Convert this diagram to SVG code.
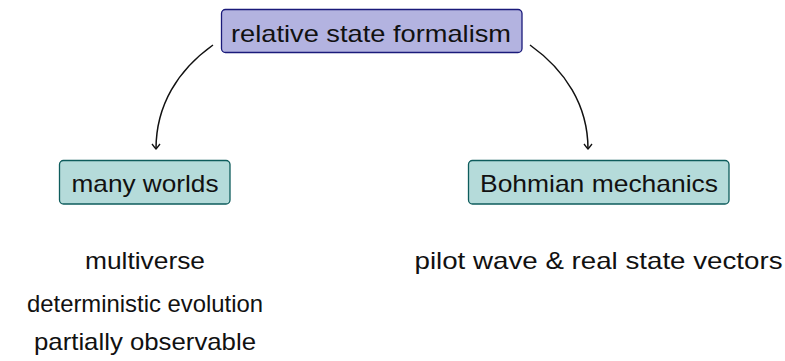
<svg xmlns="http://www.w3.org/2000/svg" width="785" height="361" viewBox="0 0 785 361">
<style>
text{font-family:"Liberation Sans","DejaVu Sans",sans-serif;font-size:24px;fill:#111;text-anchor:middle}
.top{fill:#b3b3e0;stroke:#1a1a7a;stroke-width:1.3}
.bot{fill:#b5dbda;stroke:#0e5c5c;stroke-width:1.3}
.conn{fill:none;stroke:#111;stroke-width:1.5}
</style>
<defs>
<marker id="arr" viewBox="-6 -5 8 10" markerWidth="8" markerHeight="10" refX="0" refY="0" orient="auto" markerUnits="userSpaceOnUse">
<path d="M-5,-4 Q-1,-1 0,0 Q-1,1 -5,4" fill="none" stroke="#111" stroke-width="1.3"/>
</marker>
</defs>
<rect width="785" height="361" fill="#fff"/>
<g id="connectors">
<path class="conn" d="M213,45 C178,70 156,105 156,149" marker-end="url(#arr)"/>
<path class="conn" d="M530,45 C565,70 588,105 588,149" marker-end="url(#arr)"/>
</g>
<g id="relative">
<rect class="top" x="221.5" y="9.5" width="300.5" height="43" rx="4"/>
<text x="371" y="41.5" textLength="280" lengthAdjust="spacingAndGlyphs">relative state formalism</text>
</g>
<g id="many">
<rect class="bot" x="59.5" y="160.5" width="170.5" height="43.5" rx="4"/>
<text x="145" y="191.5" textLength="147" lengthAdjust="spacingAndGlyphs">many worlds</text>
</g>
<g id="bohm">
<rect class="bot" x="468.5" y="160.5" width="260.5" height="43.5" rx="4"/>
<text x="599" y="191.5" textLength="238" lengthAdjust="spacingAndGlyphs">Bohmian mechanics</text>
</g>
<g id="labels">
<text x="145" y="269" textLength="120" lengthAdjust="spacingAndGlyphs">multiverse</text>
<text x="145" y="312" textLength="236" lengthAdjust="spacingAndGlyphs">deterministic evolution</text>
<text x="145" y="350" textLength="222" lengthAdjust="spacingAndGlyphs">partially observable</text>
<text x="598.5" y="269" textLength="368" lengthAdjust="spacingAndGlyphs">pilot wave &amp; real state vectors</text>
</g>
</svg>
